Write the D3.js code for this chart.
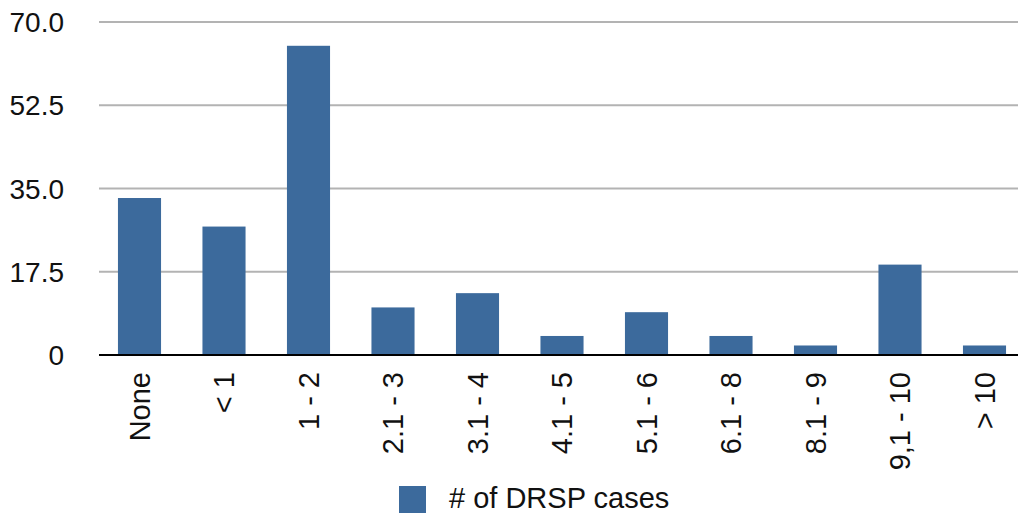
<!DOCTYPE html>
<html><head><meta charset="utf-8">
<script src="https://cdn.jsdelivr.net/npm/d3@7"></script>
<style>body{margin:0;background:#fff}svg{display:block}</style>
</head><body>
<svg id="c" width="1018" height="520"></svg>
<script>
const categories = ["None", "< 1", "1 - 2", "2.1 - 3", "3.1 - 4", "4.1 - 5", "5.1 - 6", "6.1 - 8", "8.1 - 9", "9,1 - 10", "> 10"];
const values = [33, 27, 65, 10, 13, 4, 9, 4, 2, 19, 2];
const yTicks = [0, 17.5, 35, 52.5, 70];
const yTickLabels = ["0", "17.5", "35.0", "52.5", "70.0"];
const seriesName = "# of DRSP cases";

const svg = d3.select("#c");
const font = "'Liberation Sans', Arial, Helvetica, sans-serif";
const color = "#3c6a9c";
const y = d3.scaleLinear().domain([0, 70]).range([355, 22]);
const x = d3.scaleBand().domain(categories).range([97.25, 1026.75]).paddingInner(0.49).paddingOuter(0.245);

// gridlines
svg.append("g").selectAll("line").data(yTicks.filter(d => d > 0)).join("line")
  .attr("x1", 99).attr("x2", 1018)
  .attr("y1", d => y(d)).attr("y2", d => y(d))
  .attr("stroke", "#b3b3b3").attr("stroke-width", 2);

// y labels
svg.append("g").selectAll("text").data(yTicks).join("text")
  .attr("x", 64).attr("y", d => y(d)).attr("dy", "0.36em")
  .attr("text-anchor", "end").attr("font-family", font).attr("font-size", 28).attr("fill", "#111")
  .text((d, i) => yTickLabels[i]);

// bars
svg.append("g").selectAll("rect").data(values).join("rect")
  .attr("x", (d, i) => x(categories[i]))
  .attr("width", x.bandwidth())
  .attr("y", d => y(d))
  .attr("height", d => y(0) - y(d))
  .attr("fill", color);

// baseline
svg.append("line").attr("x1", 99).attr("x2", 1018).attr("y1", y(0)).attr("y2", y(0))
  .attr("stroke", "#000").attr("stroke-width", 2);

// x labels
svg.append("g").selectAll("text").data(categories).join("text")
  .attr("transform", d => `translate(${x(d) + x.bandwidth() / 2},372) rotate(-90)`)
  .attr("dy", "0.35em")
  .attr("text-anchor", "end").attr("font-family", font).attr("font-size", 29).attr("fill", "#111")
  .text(d => d);

// legend
const lg = svg.append("g");
lg.append("rect").attr("x", 399).attr("y", 486).attr("width", 27).attr("height", 27).attr("fill", color);
lg.append("text").attr("x", 449).attr("y", 508).attr("font-family", font).attr("font-size", 29).attr("fill", "#111").text(seriesName);
</script>
</body></html>
